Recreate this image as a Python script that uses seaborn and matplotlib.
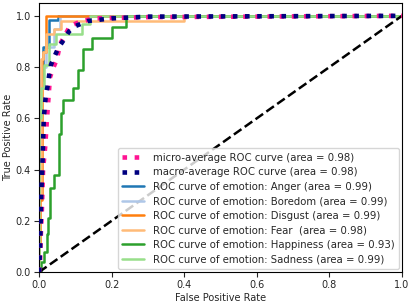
import numpy as np
import pandas as pd
import matplotlib
matplotlib.use("Agg")
import matplotlib.pyplot as plt
import seaborn as sns

# ---- data ----
micro_fpr = [0, 0.003, 0.005, 0.008, 0.011, 0.017, 0.021, 0.026, 0.03, 0.04, 0.049, 0.058, 0.07, 0.085, 0.11, 0.15, 0.3, 1.0]
micro_tpr = [0, 0.05, 0.15, 0.25, 0.40, 0.49, 0.58, 0.68, 0.76, 0.80, 0.83, 0.89, 0.92, 0.96, 0.975, 0.99, 0.995, 1.0]

macro_fpr = [0, 0.003, 0.006, 0.01, 0.013, 0.018, 0.024, 0.028, 0.033, 0.042, 0.054, 0.07, 0.083, 0.1, 0.135, 0.2, 0.3, 1.0]
macro_tpr = [0, 0.10, 0.30, 0.45, 0.60, 0.68, 0.73, 0.77, 0.81, 0.84, 0.877, 0.91, 0.94, 0.96, 0.98, 0.99, 0.997, 1.0]

anger_fpr = [0, 0, 0.005, 0.005, 0.011, 0.011, 0.028, 0.028, 0.052, 0.052, 1.0]
anger_tpr = [0, 0.5, 0.5, 0.75, 0.75, 0.88, 0.88, 0.985, 0.985, 1.0, 1.0]

boredom_fpr = [0, 0, 0.005, 0.005, 0.02, 0.02, 0.04, 0.04, 0.058, 0.058, 1.0]
boredom_tpr = [0, 0.6, 0.6, 0.8, 0.8, 0.88, 0.88, 0.95, 0.95, 1.0, 1.0]

disgust_fpr = [0, 0, 0.003, 0.003, 0.007, 0.007, 0.012, 0.012, 0.019, 0.019, 1.0]
disgust_tpr = [0, 0.1, 0.1, 0.28, 0.28, 0.83, 0.83, 0.86, 0.86, 1.0, 1.0]

fear_fpr = [0, 0, 0.005, 0.005, 0.01, 0.01, 0.02, 0.02, 0.04, 0.04, 0.06, 0.06, 0.40, 0.40, 1.0]
fear_tpr = [0, 0.3, 0.3, 0.83, 0.83, 0.86, 0.86, 0.93, 0.93, 0.95, 0.95, 0.98, 0.98, 1.0, 1.0]

happiness_fpr = [0, 0.005, 0.005, 0.014, 0.014, 0.021, 0.021, 0.026, 0.026, 0.03, 0.03, 0.04, 0.04,
                 0.056, 0.056, 0.06, 0.06, 0.066, 0.066, 0.094, 0.094, 0.108, 0.108, 0.12, 0.12,
                 0.146, 0.146, 0.2, 0.2, 0.24, 0.24, 1.0]
happiness_tpr = [0, 0, 0.04, 0.04, 0.08, 0.08, 0.15, 0.15, 0.21, 0.21, 0.33, 0.33, 0.377,
                 0.377, 0.54, 0.54, 0.62, 0.62, 0.67, 0.67, 0.72, 0.72, 0.79, 0.79, 0.87,
                 0.87, 0.915, 0.915, 0.957, 0.957, 1.0, 1.0]

sadness_fpr = [0, 0, 0.005, 0.005, 0.014, 0.014, 0.028, 0.028, 0.047, 0.047, 0.118, 0.118, 0.14, 0.14, 1.0]
sadness_tpr = [0, 0.6, 0.6, 0.72, 0.72, 0.81, 0.81, 0.89, 0.89, 0.93, 0.93, 0.97, 0.97, 1.0, 1.0]

labels = [
    "micro-average ROC curve (area = 0.98)",
    "macro-average ROC curve (area = 0.98)",
    "ROC curve of emotion: Anger (area = 0.99)",
    "ROC curve of emotion: Boredom (area = 0.99)",
    "ROC curve of emotion: Disgust (area = 0.99)",
    "ROC curve of emotion: Fear  (area = 0.98)",
    "ROC curve of emotion: Happiness (area = 0.93)",
    "ROC curve of emotion: Sadness (area = 0.99)",
]
curves = [
    (micro_fpr, micro_tpr), (macro_fpr, macro_tpr),
    (anger_fpr, anger_tpr), (boredom_fpr, boredom_tpr),
    (disgust_fpr, disgust_tpr), (fear_fpr, fear_tpr),
    (happiness_fpr, happiness_tpr), (sadness_fpr, sadness_tpr),
]
colors = ["deeppink", "navy", "#1f77b4", "#aec7e8", "#ff7f0e", "#ffbb78", "#2ca02c", "#98df8a"]

sns.set_style("ticks")
plt.rcParams["font.family"] = ["DejaVu Sans"]

fig = plt.figure(figsize=(4.11, 3.04), dpi=100)
ax = fig.add_axes([0.095, 0.105, 0.883, 0.885])

for i, ((f, t), lab, c) in enumerate(zip(curves, labels, colors)):
    df = pd.DataFrame({"fpr": f, "tpr": t})
    if i < 2:
        sns.lineplot(data=df, x="fpr", y="tpr", sort=False, estimator=None, ax=ax,
                     color=c, linestyle=":", linewidth=3.3, label=lab, zorder=3)
    else:
        sns.lineplot(data=df, x="fpr", y="tpr", sort=False, estimator=None, ax=ax,
                     color=c, linewidth=1.8, label=lab, zorder=2)

diag = pd.DataFrame({"x": [0, 1], "y": [0, 1]})
sns.lineplot(data=diag, x="x", y="y", ax=ax, color="black", linestyle="--", linewidth=1.8, zorder=2)

ax.set_xlim(0.0, 1.0)
ax.set_ylim(0.0, 1.05)
ax.set_xticks([0.0, 0.2, 0.4, 0.6, 0.8, 1.0])
ax.set_yticks([0.0, 0.2, 0.4, 0.6, 0.8, 1.0])
ax.tick_params(labelsize=7, length=3.5, width=0.8, pad=2.5)
ax.set_xlabel("False Positive Rate", fontsize=7, labelpad=2)
ax.set_ylabel("True Positive Rate", fontsize=7, labelpad=2)
for s in ax.spines.values():
    s.set_visible(True)
    s.set_linewidth(0.8)
    s.set_color("black")

ax.legend(loc="lower right", fontsize=7.3, handlelength=2.2, borderpad=0.45,
          labelspacing=0.45, framealpha=0.8, edgecolor="#cccccc",
          borderaxespad=0.3)

fig.savefig("out.png", dpi=100)
